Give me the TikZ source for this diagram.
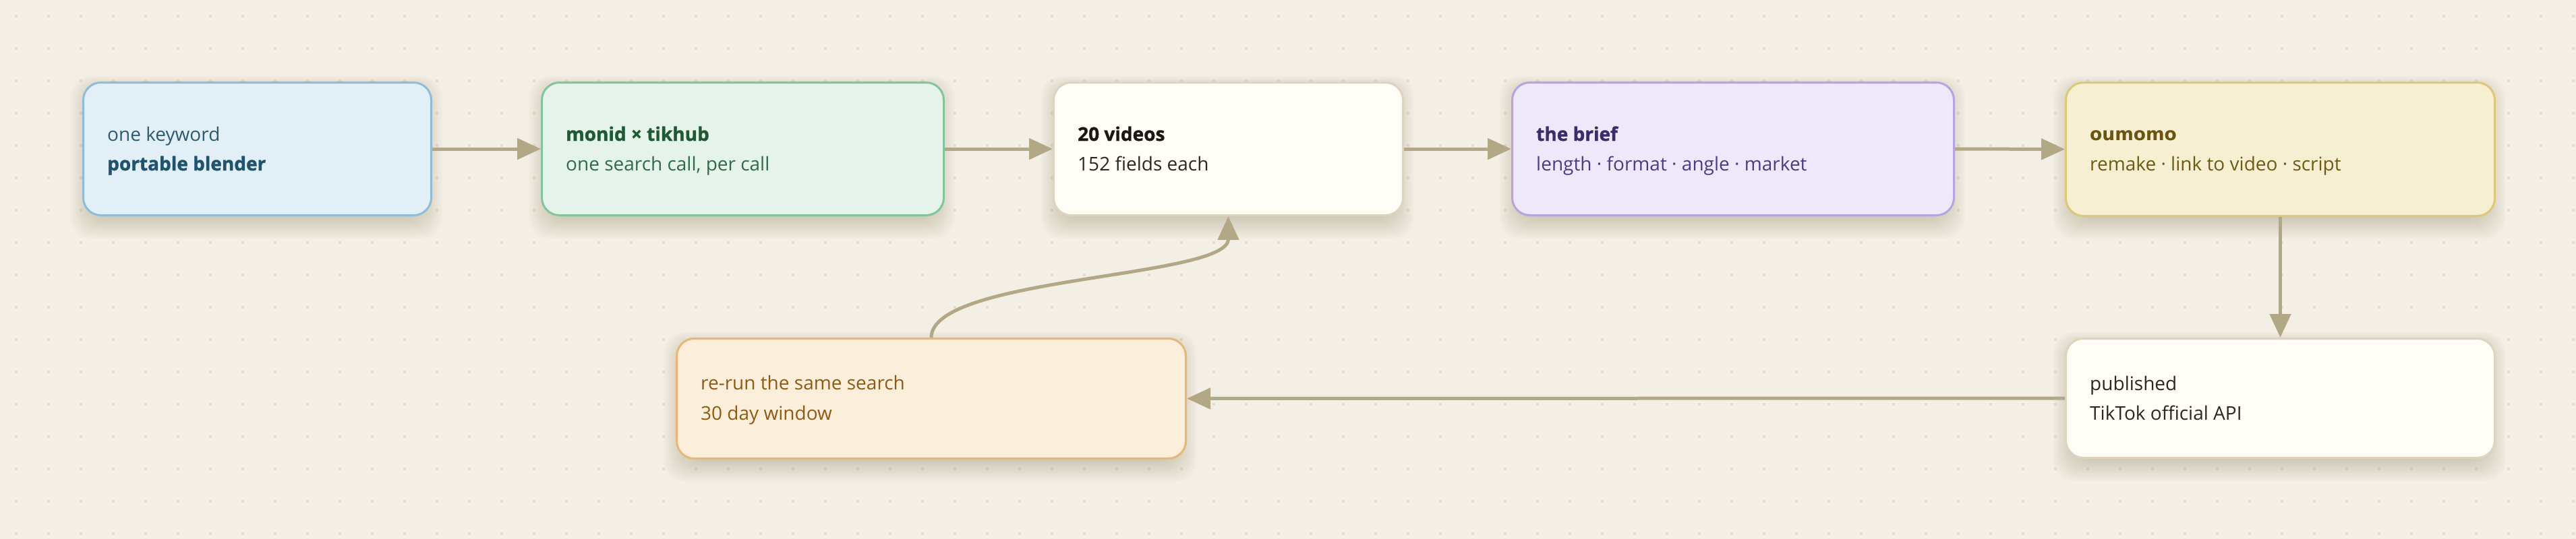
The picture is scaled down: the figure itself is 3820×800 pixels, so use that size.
\documentclass[tikz,border=0pt]{standalone}
\usepackage{fontspec}
\setmainfont{Open Sans}[BoldFeatures={FakeBold=1.2}]
\newfontfamily\wideheavy{DejaVu Sans}
\usetikzlibrary{arrows.meta,calc}
\definecolor{bgc}{HTML}{F3EFE5}
\definecolor{dotc}{HTML}{E2DBCB}
\definecolor{shc}{HTML}{8A7A55}
\definecolor{arrc}{HTML}{B3A886}
\definecolor{bluef}{HTML}{E2EFF6}
\definecolor{blueb}{HTML}{8FBDD9}
\definecolor{bluet}{HTML}{2C5A72}
\definecolor{bluetb}{HTML}{20546E}
\definecolor{greenf}{HTML}{E6F3EA}
\definecolor{greenb}{HTML}{80C59B}
\definecolor{greent}{HTML}{2F6B47}
\definecolor{greentb}{HTML}{1F5A35}
\definecolor{whitef}{HTML}{FFFDF6}
\definecolor{whiteb}{HTML}{DDD3BF}
\definecolor{whitet}{HTML}{2A2824}
\definecolor{whitetb}{HTML}{1A1814}
\definecolor{purplef}{HTML}{EEE8FB}
\definecolor{purpleb}{HTML}{B5A4DF}
\definecolor{purplet}{HTML}{4B3D80}
\definecolor{purpletb}{HTML}{3C2D6A}
\definecolor{yellowf}{HTML}{F7EFD2}
\definecolor{yellowb}{HTML}{DCC877}
\definecolor{yellowt}{HTML}{6E5A14}
\definecolor{yellowtb}{HTML}{6B5410}
\definecolor{orangef}{HTML}{FBEEDB}
\definecolor{orangeb}{HTML}{E8B676}
\definecolor{oranget}{HTML}{8F5A14}
\newcommand\softshadow[4]{%
  \foreach \i in {1,...,12}{%
    \fill[shc, opacity=0.026, rounded corners=30pt]
      (#1+14-\i*2.6, #2+16-\i*2.0) rectangle (#3-14+\i*2.6, #4+2+\i*2.8);
  }%
}
\begin{document}
\begin{tikzpicture}[x=1pt,y=-1pt,
  card/.style={rounded corners=26pt, line width=3pt, inner sep=0pt, anchor=north west},
  txt/.style={inner sep=0pt, anchor=base west, font=\fontsize{28}{34}\selectfont},
  hd/.style={inner sep=0pt, anchor=base west, font=\fontsize{28}{34}\selectfont\bfseries},
  arr/.style={draw=arrc, line width=5pt, -{Triangle[length=35pt, width=31pt]}},
  ]
\useasboundingbox (0,0) rectangle (3820,800);
\fill[bgc] (0,0) rectangle (3820,800);
\foreach \i in {0,...,79}{
  \foreach \j in {0,...,16}{
    \fill[dotc] (24+48*\i, 24+48*\j) circle (2);
  }
}
% shadows
\softshadow{122}{121}{638}{318}
\softshadow{802}{121}{1398}{318}
\softshadow{1561}{121}{2079}{318}
\softshadow{2241}{121}{2896}{318}
\softshadow{3062}{121}{3698}{319}
\softshadow{3062}{501}{3698}{678}
\softshadow{1002}{501}{1757}{679}
% boxes
\node[card, draw=blueb, fill=bluef, minimum width=516pt, minimum height=197pt] (a) at (122,121) {};
\node[txt, text=bluet] (a1) at ($(a.north west)+(37,88)$) {one keyword};
\node[hd, text=bluetb] (a2) at ($(a.north west)+(37,132)$) {portable blender};

\node[card, draw=greenb, fill=greenf, minimum width=596pt, minimum height=197pt] (b) at (802,121) {};
\node[hd, text=greentb] (b1) at ($(b.north west)+(37,88)$) {monid × tikhub};
\node[txt, text=greent] (b2) at ($(b.north west)+(37,132)$) {one search call, per call};

\node[card, draw=whiteb, fill=whitef, minimum width=518pt, minimum height=197pt] (c) at (1561,121) {};
\node[hd, text=whitetb] (c1) at ($(c.north west)+(37,88)$) {20 videos};
\node[txt, text=whitet] (c2) at ($(c.north west)+(37,132)$) {152 fields each};

\node[card, draw=purpleb, fill=purplef, minimum width=655pt, minimum height=197pt] (d) at (2241,121) {};
\node[hd, text=purpletb] (d1) at ($(d.north west)+(37,88)$) {the brief};
\node[txt, text=purplet] (d2) at ($(d.north west)+(37,132)$) {length · format · angle · market};

\node[card, draw=yellowb, fill=yellowf, minimum width=636pt, minimum height=198pt] (e) at (3062,121) {};
\node[inner sep=0pt, anchor=base west, font=\wideheavy\fontsize{26.5}{32}\selectfont\bfseries, text=yellowtb] (e1) at ($(e.north west)+(37,87)$) {oumomo};
\node[txt, text=yellowt] (e2) at ($(e.north west)+(37,132)$) {remake · link to video · script};

\node[card, draw=whiteb, fill=whitef, minimum width=636pt, minimum height=177pt] (f) at (3062,501) {};
\node[txt, text=whitet] (f1) at ($(f.north west)+(37,78)$) {published};
\node[txt, text=whitet] (f2) at ($(f.north west)+(37,122)$) {TikTok official API};

\node[card, draw=orangeb, fill=orangef, minimum width=755pt, minimum height=178pt] (g) at (1002,501) {};
\node[txt, text=oranget] (g1) at ($(g.north west)+(37,77)$) {re-run the same search};
\node[txt, text=oranget] (g2) at ($(g.north west)+(37,122)$) {30 day window};
% connectors
\draw[arr] (a.east) -- (b.west);
\draw[arr] (b.east) -- (c.west);
\draw[arr] (c.east) -- (d.west);
\draw[arr] (d.east) -- (e.west);
\draw[arr] (e.south) -- (f.north);
\draw[arr] (f.west) -- (g.east);
\draw[arr] (g.north) .. controls ($(g.north)+(0,-91)$) and ($(c.south)+(0,92)$) .. (c.south);
\end{tikzpicture}
\end{document}
